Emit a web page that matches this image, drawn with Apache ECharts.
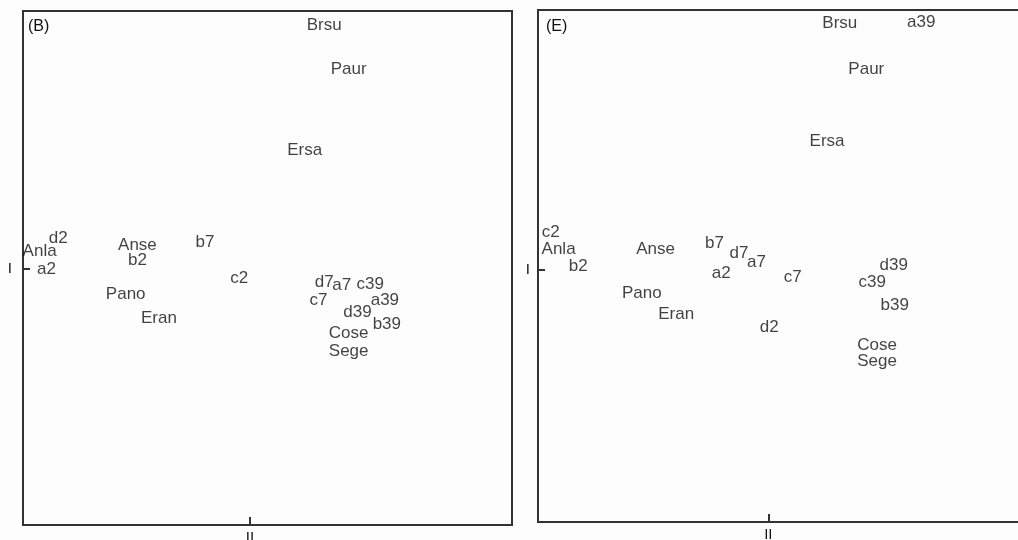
<!DOCTYPE html>
<html>
<head>
<meta charset="utf-8">
<script src="https://cdn.jsdelivr.net/npm/echarts@6/dist/echarts.min.js"></script>
<style>
html,body{margin:0;padding:0;background:#fdfdfd;}
#c{width:1018px;height:540px;}
</style>
</head>
<body>
<div id="c"></div>
<script>
// Panel (B)
var namesB = ['Brsu','Paur','Ersa','d2','Anla','a2','Anse','b2','b7','c2','Pano','Eran','d7','a7','c39','c7','a39','d39','b39','Cose','Sege'];
var xB = [0.76, 1.01, 0.56, -1.96, -2.15, -2.08, -1.15, -1.15, -0.46, -0.11, -1.27, -0.93, 0.76, 0.94, 1.23, 0.70, 1.38, 1.10, 1.40, 1.01, 1.01];
var yB = [2.37, 1.94, 1.15, 0.30, 0.17, 0.00, 0.23, 0.08, 0.26, -0.09, -0.25, -0.48, -0.13, -0.16, -0.15, -0.30, -0.30, -0.42, -0.54, -0.63, -0.80];

// Panel (E)
var namesE = ['Brsu','a39','Paur','Ersa','c2','Anla','b2','Anse','b7','d7','a7','a2','Pano','Eran','d2','c7','d39','c39','b39','Cose','Sege'];
var xE = [0.73, 1.56, 1.00, 0.60, -2.22, -2.14, -1.94, -1.15, -0.55, -0.30, -0.12, -0.48, -1.29, -0.94, 0.01, 0.25, 1.28, 1.06, 1.29, 1.11, 1.11];
var yE = [2.41, 2.42, 1.96, 1.26, 0.37, 0.20, 0.04, 0.20, 0.26, 0.16, 0.08, -0.03, -0.23, -0.43, -0.56, -0.07, 0.05, -0.12, -0.34, -0.73, -0.89];

var panelTitles = ['(B)', '(E)'];
var xAxisName = 'II';
var yAxisName = 'I';

function pts(names, xs, ys) {
  return names.map(function (n, i) { return { name: n, value: [xs[i], ys[i]] }; });
}

var lineCol = '#333';
var textCol = '#111';
var font = 'Liberation Sans';

function xAx(gi, min, max) {
  return {
    type: 'value', gridIndex: gi, min: min, max: max,
    splitLine: { show: false },
    axisLine: { show: true, onZero: false, lineStyle: { color: lineCol, width: 2 } },
    axisTick: { show: true, inside: true, length: 8, customValues: [0], lineStyle: { color: lineCol, width: 2 } },
    axisLabel: { show: true, customValues: [0], formatter: function () { return xAxisName; }, margin: 5, color: textCol, fontSize: 15, fontFamily: font }
  };
}
function yAx(gi, min, max, margin) {
  return {
    type: 'value', gridIndex: gi, min: min, max: max,
    splitLine: { show: false },
    axisLine: { show: true, onZero: false, lineStyle: { color: lineCol, width: 2 } },
    axisTick: { show: true, inside: true, length: 7, customValues: [0], lineStyle: { color: lineCol, width: 2 } },
    axisLabel: { show: true, customValues: [0], formatter: function () { return yAxisName; }, margin: margin, color: textCol, fontSize: 15, fontFamily: font }
  };
}
function ser(gi, data) {
  return {
    type: 'scatter', xAxisIndex: gi, yAxisIndex: gi, data: data,
    symbolSize: 1, itemStyle: { color: 'rgba(0,0,0,0)' }, silent: true, clip: false,
    label: {
      show: true, position: 'inside', formatter: function (p) { return p.name; },
      color: textCol, fontSize: 17, fontFamily: font
    }
  };
}

var chart = echarts.init(document.getElementById('c'));
chart.setOption({
  animation: false,
  backgroundColor: '#fdfdfd',
  title: [
    { text: panelTitles[0], left: 28, top: 19, padding: 0, textStyle: { fontSize: 16, fontWeight: 'normal', color: textCol, fontFamily: font } },
    { text: panelTitles[1], left: 546, top: 19, padding: 0, textStyle: { fontSize: 16, fontWeight: 'normal', color: textCol, fontFamily: font } }
  ],
  grid: [
    { left: 23, top: 11, width: 489, height: 514, outerBoundsMode: 'none', show: true, borderColor: lineCol, borderWidth: 2, backgroundColor: 'rgba(0,0,0,0)' },
    { left: 538, top: 10, width: 490, height: 512, outerBoundsMode: 'none', show: true, borderColor: lineCol, borderWidth: 2, backgroundColor: 'rgba(0,0,0,0)' }
  ],
  xAxis: [xAx(0, -2.32, 2.68), xAx(1, -2.35, 2.65)],
  yAxis: [yAx(0, -2.49, 2.51, 11), yAx(1, -2.46, 2.54, 8)],
  series: [ser(0, pts(namesB, xB, yB)), ser(1, pts(namesE, xE, yE))]
});
</script>
</body>
</html>
